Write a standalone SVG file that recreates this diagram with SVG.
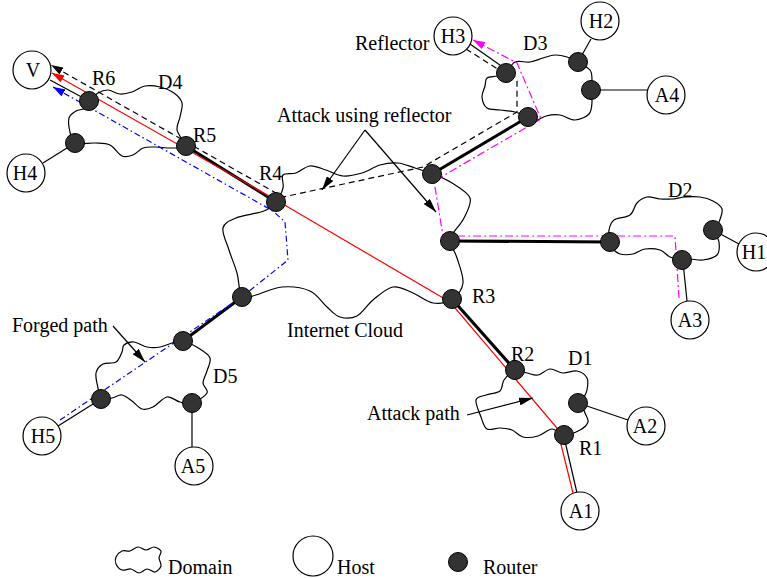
<svg xmlns="http://www.w3.org/2000/svg" width="767" height="578" viewBox="0 0 767 578">
<style>
text{font-family:"Liberation Serif","Times New Roman",serif;font-size:20px;fill:#000}
.mid{text-anchor:middle}
.cloud{fill:none;stroke:#000;stroke-width:1.2}
.host{fill:#fff;stroke:#000;stroke-width:1.2}
.rt{fill:#333;stroke:#000;stroke-width:1}
.thin{fill:none;stroke:#000;stroke-width:1.2}
.thick{fill:none;stroke:#000;stroke-width:3}
.red{fill:none;stroke:#f00;stroke-width:1.2}
.dash{fill:none;stroke:#000;stroke-width:1.2;stroke-dasharray:6 4}
.blue{fill:none;stroke:#00f;stroke-width:1.2;stroke-dasharray:6 3 1.5 3}
.mag{fill:none;stroke:#f0f;stroke-width:1.2;stroke-dasharray:8 3 2 3}
</style>
<defs>
<marker id="ak" viewBox="0 0 14 8" refX="14" refY="4" markerWidth="14" markerHeight="8" orient="auto" markerUnits="userSpaceOnUse"><path d="M0,0 L14,4 L0,8 Z" fill="#000"/></marker>
<marker id="ad" viewBox="0 0 12 8" refX="12" refY="4" markerWidth="12" markerHeight="8" orient="auto" markerUnits="userSpaceOnUse"><path d="M0,0 L12,4 L0,8 Z" fill="#000"/></marker>
<marker id="ar" viewBox="0 0 12 8" refX="12" refY="4" markerWidth="12" markerHeight="8" orient="auto" markerUnits="userSpaceOnUse"><path d="M0,0 L12,4 L0,8 Z" fill="#f00"/></marker>
<marker id="ab" viewBox="0 0 12 8" refX="12" refY="4" markerWidth="12" markerHeight="8" orient="auto" markerUnits="userSpaceOnUse"><path d="M0,0 L12,4 L0,8 Z" fill="#00f"/></marker>
<marker id="am" viewBox="0 0 12 8" refX="12" refY="4" markerWidth="12" markerHeight="8" orient="auto" markerUnits="userSpaceOnUse"><path d="M0,0 L12,4 L0,8 Z" fill="#f0f"/></marker>
</defs>
<rect width="767" height="578" fill="#fff"/>

<g id="internet">
<path class="cloud" d="M276,202 C279.2,198.2 281.8,192.5 283,188 S280.8,177.5 283,175 S291.5,174.5 296,173 S305,166.5 310,166 S320.5,168.3 326,170 S337,175.5 343,176 S355.8,174.8 362,173 S374,166.7 380,165 S392.2,162.5 398,163 S409.2,166.2 415,168 S426.8,171.5 433,174 S445.8,179 452,183 S468,192.2 470,198 S466.7,212.3 464,218 S456.3,228.2 454,232 S449.5,236.7 450,241 S454.8,251 457,258 S463.8,276.2 463,283 S457,295.7 452,299 S439.5,304 433,303 S419.7,295.7 413,293 S399.7,285.8 393,287 S379,295.2 373,300 S362.5,313.2 357,316 S345,318.5 340,317 S332,311.3 327,307 S317.5,294.3 310,291 S291,286.3 282,287 S262.7,293.3 256,295 S245.2,300.7 242,297 S239.2,280.8 237,273 S231.3,257.5 229,250 S221.8,233.3 223,228 S229.2,220.8 236,218 S257.3,213.7 264,211 S272.8,205.8 276,202 Z"/>
<text x="287" y="337">Internet Cloud</text>
</g>
<g id="D4">
<path class="cloud" d="M89,101 C91,98.5 94.8,94.8 98,93 S104.3,89.8 108,90 S116,93.7 120,94 S127.8,93.3 132,92 S140.3,86.8 145,86 S155.2,85.8 160,87 S170.3,90.3 174,93 S181,99 182,103 S180.8,112.5 180,117 S176.2,125.2 177,130 S185.8,143 185,146 S177,147.8 172,148 S159.8,147 155,147 S146.7,146.7 143,148 S136.5,153.7 133,155 S125.8,157.7 122,156 S114.5,147.2 110,145 S100.8,143.3 95,143 S79.2,144.8 75,143 S71,136.2 70,132 S68,121.5 69,118 S73.2,112.7 76,111 S83.8,109.7 86,108 S87,103.5 89,101 Z"/>
<text x="158" y="89">D4</text>
</g>
<g id="D3">
<path class="cloud" d="M506,73 C509,70.7 511,63.8 515,62 S525.3,62.7 530,62 S538.8,59.2 543,58 S551,55.2 555,55 S563.2,55.8 567,57 S574.2,59.8 578,62 S587.7,67 590,70 S591.8,76.7 592,80 S591,86.3 591,90 S592.3,98 592,102 S591.8,111 589,114 S579.8,119.8 575,120 S564.8,115.7 560,115 S550.2,115 546,116 S538,120.8 535,121 S531.3,118.5 528,117 S519.7,113.2 515,112 S504.7,110.7 500,110 S490,110.2 487,108 S482.3,100.7 482,97 S484.2,89.2 485,86 S485,79.7 487,78 S493.8,76.8 497,76 S503,75.3 506,73 Z"/>
<text x="523" y="50">D3</text>
</g>
<g id="D2">
<path class="cloud" d="M610,242 C609.5,239 608.3,233.7 609,230 S610.5,222.5 614,220 S626.2,217.8 630,215 S634.2,206 637,203 S643.2,197.7 647,197 S655.8,198.7 660,199 S667.8,199.3 672,199 S680.3,197.3 685,197 S695.3,196.3 700,197 S709.3,199 713,201 S721,205.5 722,209 S720.3,218.5 719,222 S714,226.7 714,230 S718.5,237.8 719,242 S719.7,252 717,255 S707.5,259.3 703,260 S693.5,259 690,259 S685.3,260.3 682,260 S673.7,258.7 670,257 S664.2,251.3 660,250 S649.5,248.3 645,249 S637.2,253.2 633,254 S623.5,255 620,254 S613.7,250 612,248 S610.5,245 610,242 Z"/>
<text x="668" y="197">D2</text>
</g>
<g id="D1">
<path class="cloud" d="M515,370 C518.8,368.8 523.2,372.2 527,373 S534.2,375.7 538,375 S545.8,369.3 550,369 S558.5,372.7 563,373 S573,370.2 577,371 S585.3,374.8 587,378 S587.8,385.8 587,390 S582.3,399.2 582,403 S584,409.8 585,413 S588.8,419.2 588,422 S584,427.8 580,430 S568.7,435.2 564,435 S556.3,428.8 552,429 S542.8,434.7 538,436 S527.3,438 523,437 S515.8,431.5 512,430 S504.2,428.2 500,428 S490.2,430.8 487,429 S482.8,421.8 481,417 S475.2,403.7 476,400 S482,396.5 486,395 S497,393.5 500,391 S501.5,383.5 504,380 S511.2,371.2 515,370 Z"/>
<text x="568" y="365">D1</text>
</g>
<g id="D5">
<path class="cloud" d="M183,341 C187.7,342 195.5,346.2 200,349 S208.8,354.3 210,358 S208.2,366.8 207,371 S203,379.3 203,383 S208.8,389.7 207,393 S196.5,401.5 192,403 S184.2,403 180,402 S171.5,396.2 167,397 S157.2,405 153,407 S145.5,410 142,409 S135.3,403.3 132,401 S125.3,395.5 122,395 S115.5,397.3 112,398 S103.3,400.7 101,399 S98.8,392.3 98,388 S95.2,377 96,373 S99.7,365.8 103,364 S112.8,364 116,362 S120.7,354.8 122,352 S122,346.7 124,345 S130.2,341.7 134,342 S142.7,346.2 147,347 S155.8,347.7 160,347 S168.2,344 172,343 S178.3,340 183,341 Z"/>
<text x="213" y="383">D5</text>
</g>

<g id="connectors">
<path class="thick" d="M186,146 L276,202"/>
<path class="thick" d="M432,174 L528,117"/>
<path class="thick" d="M450,241 L610,242"/>
<path class="thick" d="M452,299 L515,370"/>
<path class="thick" d="M242,297 L183,341"/>
<path class="thin" d="M50,80 L89,101"/>
<path class="thin" d="M43,163 L75,143"/>
<path class="thin" d="M470,44 L507,70"/>
<path class="thin" d="M578,62 L591,39"/>
<path class="thin" d="M591,90 L648,90"/>
<path class="thin" d="M713,230 L739,244"/>
<path class="thin" d="M683,262 L687,301"/>
<path class="thin" d="M578,403 L628,420"/>
<path class="thin" d="M101,399 L58,426"/>
<path class="thin" d="M192,403 L192,447"/>
<path class="thin" d="M564,437 L577,493"/>
<path class="red" d="M573,493 L557,428 L450,302 L276,200 L52,73" marker-end="url(#ar)"/>
<path class="dash" d="M466,49 L504,73 L517,81 L517,112 L423,167 L283,197 L51,65" marker-end="url(#ad)"/>
<path class="blue" d="M60,420 L243,296 L288,260 L285,222 L273,211 L53,87" marker-end="url(#ab)"/>
<path class="mag" d="M679,298 L675,236 L443,236 L434,181 L541,119 L517,63 L473,40" marker-end="url(#am)"/>
<path class="thin" d="M365,130 L322,190" marker-end="url(#ak)"/>
<path class="thin" d="M365,130 L436,212" marker-end="url(#ak)"/>
<path class="thin" d="M113,326 L145,362" marker-end="url(#ak)"/>
<path class="thin" d="M467,415 L533,398" marker-end="url(#ak)"/>
</g>

<g id="labels">
<text x="277" y="122">Attack using reflector</text>
<text x="355" y="50">Reflector</text>
<text x="12" y="332">Forged path</text>
<text x="367" y="420">Attack path</text>
</g>

<g id="V"><circle class="host" cx="32" cy="70" r="19"/><text class="mid" x="33" y="77">V</text></g>
<g id="H4"><circle class="host" cx="26" cy="173" r="19"/><text class="mid" x="25" y="180">H4</text></g>
<g id="H3"><circle class="host" cx="453" cy="36" r="19"/><text class="mid" x="453" y="43">H3</text></g>
<g id="H2"><circle class="host" cx="600" cy="21" r="19"/><text class="mid" x="601" y="28">H2</text></g>
<g id="A4"><circle class="host" cx="666" cy="95" r="19"/><text class="mid" x="667" y="102">A4</text></g>
<g id="H1"><circle class="host" cx="756" cy="252" r="19"/><text class="mid" x="754" y="259">H1</text></g>
<g id="A3"><circle class="host" cx="690" cy="320" r="19"/><text class="mid" x="690" y="327">A3</text></g>
<g id="A2"><circle class="host" cx="646" cy="426" r="19"/><text class="mid" x="645" y="433">A2</text></g>
<g id="A1"><circle class="host" cx="580" cy="511" r="19"/><text class="mid" x="581" y="518">A1</text></g>
<g id="H5"><circle class="host" cx="42" cy="436" r="19"/><text class="mid" x="43" y="443">H5</text></g>
<g id="A5"><circle class="host" cx="194" cy="466" r="19"/><text class="mid" x="193" y="473">A5</text></g>

<g id="R6"><circle class="rt" cx="89" cy="101" r="9.5"/><text x="92" y="85">R6</text></g>
<g id="R5"><circle class="rt" cx="186" cy="146" r="9.5"/><text x="193" y="142">R5</text></g>
<g id="R4"><circle class="rt" cx="276" cy="202" r="9.5"/><text x="259" y="180">R4</text></g>
<g id="R3"><circle class="rt" cx="452" cy="299" r="9.5"/><text x="472" y="303">R3</text></g>
<g id="R2"><circle class="rt" cx="515" cy="370" r="9.5"/><text x="511" y="361">R2</text></g>
<g id="R1"><circle class="rt" cx="564" cy="435" r="9.5"/><text x="579" y="455">R1</text></g>
<g id="rD4h"><circle class="rt" cx="75" cy="143" r="9.5"/></g>
<g id="rInetTop"><circle class="rt" cx="432" cy="174" r="9.5"/></g>
<g id="rInetRight"><circle class="rt" cx="450" cy="241" r="9.5"/></g>
<g id="rInetLeft"><circle class="rt" cx="242" cy="297" r="9.5"/></g>
<g id="rD3refl"><circle class="rt" cx="506" cy="73" r="9.5"/></g>
<g id="rD3edge"><circle class="rt" cx="528" cy="117" r="9.5"/></g>
<g id="rD3h2"><circle class="rt" cx="578" cy="62" r="9.5"/></g>
<g id="rD3a4"><circle class="rt" cx="591" cy="90" r="9.5"/></g>
<g id="rD2edge"><circle class="rt" cx="610" cy="242" r="9.5"/></g>
<g id="rD2a3"><circle class="rt" cx="682" cy="260" r="9.5"/></g>
<g id="rD2h1"><circle class="rt" cx="713" cy="230" r="9.5"/></g>
<g id="rD1a2"><circle class="rt" cx="578" cy="403" r="9.5"/></g>
<g id="rD5edge"><circle class="rt" cx="183" cy="341" r="9.5"/></g>
<g id="rD5h5"><circle class="rt" cx="101" cy="399" r="9.5"/></g>
<g id="rD5a5"><circle class="rt" cx="192" cy="403" r="9.5"/></g>

<g id="legend">
<path class="cloud" d="M116,557 C117,554.8 119.7,552 122,551 S127.3,551.7 130,551 S135.3,547.2 138,547 S143.3,550 146,550 S151.5,546.8 154,547 S160.2,549.2 161,551 S159,555.5 159,558 S161.7,563.7 161,566 S157.3,571.5 155,572 S149.7,568.8 147,569 S141.7,573 139,573 S133.8,569.5 131,569 S124.5,570.8 122,570 S117,566.2 116,564 S115,559.2 116,557 Z"/>
<text x="168" y="574">Domain</text>
<circle class="host" cx="313" cy="556" r="20"/>
<text x="337" y="574">Host</text>
<circle class="rt" cx="458" cy="562" r="9.5"/>
<text x="483" y="574">Router</text>
</g>
</svg>
